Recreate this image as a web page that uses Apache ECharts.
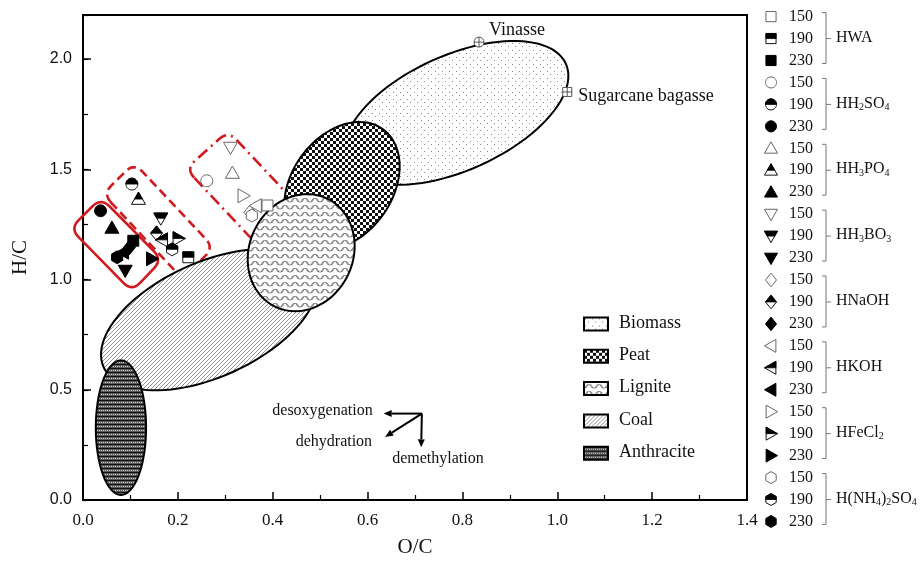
<!DOCTYPE html>
<html>
<head>
<meta charset="utf-8">
<script src="https://cdn.jsdelivr.net/npm/echarts@6/dist/echarts.min.js"></script>
<style>
html, body { margin: 0; padding: 0; background: #fff; }
#main { width: 922px; height: 570px; }
</style>
</head>
<body>
<div id="main"></div>
<script>
var chartDom = document.getElementById('main');
var myChart = echarts.init(chartDom, null, { renderer: 'canvas' });

// treatments and temperatures
var groups = ['HWA', 'HH2SO4', 'HH3PO4', 'HH3BO3', 'HNaOH', 'HKOH', 'HFeCl2', 'H(NH4)2SO4'];
var groupLabels = ['HWA', 'HH{s|2}SO{s|4}', 'HH{s|3}PO{s|4}', 'HH{s|3}BO{s|3}', 'HNaOH', 'HKOH', 'HFeCl{s|2}', 'H(NH{s|4}){s|2}SO{s|4}'];
var temps = ['150', '190', '230'];
var shapes = ['square', 'circle', 'triUp', 'triDown', 'diamond', 'triLeft', 'triRight', 'hexagon'];

// O/C and H/C per treatment, one pair of arrays per temperature
var oc150 = [0.389, 0.261, 0.315, 0.311, 0.352, 0.365, 0.338, 0.356];
var hc150 = [1.336, 1.448, 1.483, 1.599, 1.305, 1.335, 1.380, 1.290];
var oc190 = [0.222, 0.103, 0.117, 0.164, 0.155, 0.167, 0.201, 0.188];
var hc190 = [1.101, 1.433, 1.365, 1.278, 1.210, 1.180, 1.186, 1.137];
var oc230 = [0.106, 0.037, 0.061, 0.089, 0.098, 0.085, 0.145, 0.072];
var hc230 = [1.176, 1.312, 1.234, 1.041, 1.146, 1.124, 1.094, 1.101];

// raw feedstocks
var refNames = ['Vinasse', 'Sugarcane bagasse'];
var refOC = [0.835, 1.021];
var refHC = [2.077, 1.851];

// fuel regions: centre and two conjugate half axes (data units)
var fuelNames = ['Biomass', 'Peat', 'Lignite', 'Coal', 'Anthracite'];
var fuelOC = [0.787, 0.546, 0.460, 0.266, 0.080];
var fuelHC = [1.756, 1.425, 1.122, 0.818, 0.328];
var fuelAxisA = [[0.231, 0.223], [0.085, 0.259], [0.054, 0.246], [0.222, 0.218], [0.053, 0]];
var fuelAxisB = [[0.050, -0.238], [0.087, -0.130], [0.099, -0.100], [0.052, -0.235], [0, 0.305]];
var fuelLayer = [1, 2, 4, 3, 5];

// highlighted boxes (corners L, T, R, B)
var boxOC = [[-0.027, 0.038, 0.167, 0.103], [0.042, 0.108, 0.276, 0.209], [0.217, 0.306, 0.454, 0.365]];
var boxHC = [[1.231, 1.371, 1.090, 0.946], [1.389, 1.529, 1.145, 1.005], [1.502, 1.674, 1.335, 1.163]];
var boxDash = [null, [9, 5], [12, 5, 2, 5]];

// mechanism arrows
var arrowNames = ['desoxygenation', 'dehydration', 'demethylation'];
var arrowFrom = [0.7145, 0.392];
var arrowToOC = [0.634, 0.637, 0.713];
var arrowToHC = [0.392, 0.286, 0.239];

var SERIF = '"Liberation Serif", "Times New Roman", serif';
var RED = '#d11a1f';

function makePattern(kind) {
  var c = document.createElement('canvas');
  var ctx;
  if (kind === 'Biomass') {
    c.width = 7; c.height = 7; ctx = c.getContext('2d');
    ctx.fillStyle = '#fff'; ctx.fillRect(0, 0, 7, 7);
    ctx.fillStyle = '#8a8a8a'; ctx.fillRect(1, 1, 1, 1); ctx.fillRect(4, 4, 1, 1);
  } else if (kind === 'Peat') {
    c.width = 6; c.height = 6; ctx = c.getContext('2d');
    ctx.fillStyle = '#fff'; ctx.fillRect(0, 0, 6, 6);
    ctx.fillStyle = '#111'; ctx.fillRect(0, 0, 3, 3); ctx.fillRect(3, 3, 3, 3);
  } else if (kind === 'Lignite') {
    c.width = 10; c.height = 7; ctx = c.getContext('2d');
    ctx.fillStyle = '#fff'; ctx.fillRect(0, 0, 10, 7);
    ctx.strokeStyle = '#6a6a6a'; ctx.lineWidth = 0.8;
    ctx.beginPath(); ctx.arc(5, 6, 3.6, Math.PI, 0); ctx.stroke();
    ctx.beginPath(); ctx.arc(0, 2.5, 3.6, 0, Math.PI); ctx.stroke();
    ctx.beginPath(); ctx.arc(10, 2.5, 3.6, 0, Math.PI); ctx.stroke();
  } else if (kind === 'Coal') {
    c.width = 4; c.height = 4; ctx = c.getContext('2d');
    ctx.fillStyle = '#fff'; ctx.fillRect(0, 0, 4, 4);
    ctx.strokeStyle = '#777'; ctx.lineWidth = 0.8;
    ctx.beginPath(); ctx.moveTo(0, 4); ctx.lineTo(4, 0);
    ctx.moveTo(-1, 1); ctx.lineTo(1, -1); ctx.moveTo(3, 5); ctx.lineTo(5, 3); ctx.stroke();
  } else {
    c.width = 4; c.height = 4; ctx = c.getContext('2d');
    ctx.fillStyle = '#5a5a5a'; ctx.fillRect(0, 0, 4, 4);
    ctx.fillStyle = '#111'; ctx.fillRect(0, 0, 4, 1);
    ctx.fillStyle = '#cfcfcf'; ctx.fillRect(1, 2, 1, 1); ctx.fillRect(3, 2, 1, 1);
  }
  return { image: c, repeat: 'repeat' };
}
var patterns = fuelNames.map(makePattern);

function shapePoints(shape, r) {
  var p = [], k, a;
  if (shape === 'square') { var h = r * 0.78; p = [[-h, -h], [h, -h], [h, h], [-h, h]]; }
  else if (shape === 'circle') { for (k = 0; k < 32; k++) { a = k / 32 * 2 * Math.PI; p.push([Math.cos(a) * r * 0.85, Math.sin(a) * r * 0.85]); } }
  else if (shape === 'triUp') p = [[0, -r], [r, r * 0.75], [-r, r * 0.75]];
  else if (shape === 'triDown') p = [[0, r], [r, -r * 0.75], [-r, -r * 0.75]];
  else if (shape === 'diamond') p = [[0, -r * 1.05], [r * 0.85, 0], [0, r * 1.05], [-r * 0.85, 0]];
  else if (shape === 'triLeft') p = [[-r, 0], [r * 0.75, -r], [r * 0.75, r]];
  else if (shape === 'triRight') p = [[r, 0], [-r * 0.75, -r], [-r * 0.75, r]];
  else { for (k = 0; k < 6; k++) { a = (-90 + 60 * k) * Math.PI / 180; p.push([Math.cos(a) * r * 0.92, Math.sin(a) * r * 0.92]); } }
  return p;
}

// keep the upper half (screen y <= 0) of a polygon
function topHalf(pts) {
  var out = [];
  for (var i = 0; i < pts.length; i++) {
    var a = pts[i], b = pts[(i + 1) % pts.length];
    var ain = a[1] <= 0, bin = b[1] <= 0;
    if (ain) out.push(a);
    if (ain !== bin) {
      var t = a[1] / (a[1] - b[1]);
      out.push([a[0] + t * (b[0] - a[0]), 0]);
    }
  }
  return out;
}

// mode 0 open, 1 half filled, 2 filled
function symbolEls(shape, mode, r) {
  var pts = shapePoints(shape, r);
  if (mode === 2) {
    return [{ type: 'polygon', shape: { points: pts }, style: { fill: '#000', stroke: '#000', lineWidth: 1 } }];
  }
  var els = [{ type: 'polygon', shape: { points: pts }, style: { fill: '#fff', stroke: mode === 0 ? '#666' : '#111', lineWidth: 1 } }];
  if (mode === 1) {
    els.push({ type: 'polygon', shape: { points: topHalf(pts) }, style: { fill: '#000', stroke: '#000', lineWidth: 0.8 } });
  }
  return els;
}

function roundedPoints(pts, r) {
  var n = pts.length, out = [];
  for (var i = 0; i < n; i++) {
    var p0 = pts[(i - 1 + n) % n], p1 = pts[i], p2 = pts[(i + 1) % n];
    var d1 = Math.hypot(p0[0] - p1[0], p0[1] - p1[1]), d2 = Math.hypot(p2[0] - p1[0], p2[1] - p1[1]);
    var a = [p1[0] + (p0[0] - p1[0]) / d1 * r, p1[1] + (p0[1] - p1[1]) / d1 * r];
    var b = [p1[0] + (p2[0] - p1[0]) / d2 * r, p1[1] + (p2[1] - p1[1]) / d2 * r];
    for (var s = 0; s <= 10; s++) {
      var t = s / 10;
      out.push([
        (1 - t) * (1 - t) * a[0] + 2 * (1 - t) * t * p1[0] + t * t * b[0],
        (1 - t) * (1 - t) * a[1] + 2 * (1 - t) * t * p1[1] + t * t * b[1]
      ]);
    }
  }
  return out;
}

var pointData = [];
[[oc150, hc150], [oc190, hc190], [oc230, hc230]].forEach(function (set, t) {
  groups.forEach(function (g, i) {
    pointData.push([set[0][i], set[1][i], i, t]);
  });
});

// legends drawn as graphic elements
var graphics = [];
fuelNames.forEach(function (name, i) {
  var cy = 323 + i * 32.3;
  graphics.push({
    type: 'rect', left: 583, top: cy - 6.5,
    shape: { x: 0, y: 0, width: 24, height: 13 },
    style: { fill: patterns[i], stroke: '#000', lineWidth: 2 }
  });
  graphics.push({
    type: 'text', x: 619, y: cy,
    style: { text: name, font: '18px ' + SERIF, fill: '#111', verticalAlign: 'middle', align: 'left' }
  });
});
groups.forEach(function (g, i) {
  var rows = [];
  temps.forEach(function (t, j) {
    var y = 16.6 + 21.95 * (i * 3 + j);
    rows.push(y);
    graphics.push({ type: 'group', x: 771, y: y, children: symbolEls(shapes[i], j, 6.5) });
    graphics.push({
      type: 'text', x: 789, y: y,
      style: { text: t, font: '16px ' + SERIF, fill: '#111', verticalAlign: 'middle', align: 'left' }
    });
  });
  var top = rows[0] - 4, bot = rows[2] + 3;
  graphics.push({
    type: 'polyline',
    shape: { points: [[822, top], [826, top], [826, bot], [822, bot]] },
    style: { stroke: '#777', lineWidth: 1, fill: null }
  });
  graphics.push({
    type: 'line', shape: { x1: 826, y1: rows[1], x2: 831, y2: rows[1] },
    style: { stroke: '#777', lineWidth: 1 }
  });
  graphics.push({
    type: 'text', x: 836, y: rows[1] - 1,
    style: {
      text: groupLabels[i], font: '16px ' + SERIF, fill: '#111', lineHeight: 18,
      verticalAlign: 'middle', align: 'left',
      rich: { s: { fontSize: 10, fontFamily: SERIF, lineHeight: 9, verticalAlign: 'bottom', fill: '#111' } }
    }
  });
});

var option = {
  animation: false,
  backgroundColor: '#fff',
  grid: { left: 83, right: 175, top: 15, bottom: 70, show: true, borderColor: '#000', borderWidth: 2, backgroundColor: 'transparent' },
  xAxis: {
    type: 'value', min: 0, max: 1.4, interval: 0.2,
    name: 'O/C', nameLocation: 'middle', nameGap: 37,
    nameTextStyle: { fontFamily: SERIF, fontSize: 21, color: '#111' },
    axisLine: { lineStyle: { color: '#000', width: 2 } },
    axisTick: { inside: true, length: 8, lineStyle: { color: '#000', width: 1.5 } },
    minorTick: { show: true, splitNumber: 2, length: 5, lineStyle: { color: '#000', width: 1.2 } },
    axisLabel: { margin: 12, fontFamily: SERIF, fontSize: 17, color: '#111', formatter: function (v) { return v.toFixed(1); } },
    splitLine: { show: false }
  },
  yAxis: [{
    type: 'value', min: 0, max: 2.2, interval: 0.5,
    name: 'H/C', nameLocation: 'middle', nameGap: 52,
    nameTextStyle: { fontFamily: SERIF, fontSize: 21, color: '#111' },
    axisLine: { lineStyle: { color: '#000', width: 2 } },
    axisTick: { inside: true, length: 8, lineStyle: { color: '#000', width: 1.5 } },
    axisLabel: {
      margin: 11, fontFamily: '"Liberation Sans", Arial, sans-serif', fontSize: 16, color: '#111',
      formatter: function (v) { return Math.abs(v * 2 - Math.round(v * 2)) < 1e-6 ? v.toFixed(1) : ''; }
    },
    splitLine: { show: false }
  }, {
    type: 'value', min: 0, max: 2.2, interval: 0.25, position: 'left', offset: 0,
    axisLine: { show: false },
    axisTick: { inside: true, length: 5, lineStyle: { color: '#000', width: 1.2 } },
    axisLabel: { show: false },
    splitLine: { show: false }
  }],
  graphic: graphics,
  series: [
    {
      type: 'custom', name: 'boxes', z: 2, silent: true, clip: false,
      data: boxOC.map(function (b, i) { return [b[0], boxHC[i][0], i]; }),
      renderItem: function (params, api) {
        var i = api.value(2);
        var corners = boxOC[i].map(function (x, k) { return api.coord([x, boxHC[i][k]]); });
        return {
          type: 'polygon', shape: { points: roundedPoints(corners, 12) },
          style: { fill: null, stroke: RED, lineWidth: 2.6, lineDash: boxDash[i] }
        };
      }
    },
    {
      type: 'custom', name: 'fuels', z: 3, silent: true, clip: false,
      data: fuelNames.map(function (n, i) { return [fuelOC[i], fuelHC[i], i]; }),
      renderItem: function (params, api) {
        var i = api.value(2), A = fuelAxisA[i], B = fuelAxisB[i];
        var pts = [];
        for (var k = 0; k < 96; k++) {
          var t = k / 96 * 2 * Math.PI, c = Math.cos(t), s = Math.sin(t);
          pts.push(api.coord([fuelOC[i] + A[0] * c + B[0] * s, fuelHC[i] + A[1] * c + B[1] * s]));
        }
        return {
          type: 'polygon', z2: fuelLayer[i], shape: { points: pts },
          style: { fill: patterns[i], stroke: '#000', lineWidth: 2 }
        };
      }
    },
    {
      type: 'custom', name: 'arrows', z: 4, silent: true, clip: false,
      data: arrowNames.map(function (n, i) { return [arrowToOC[i], arrowToHC[i], i]; }),
      renderItem: function (params, api) {
        var i = api.value(2);
        var p0 = api.coord(arrowFrom), p1 = api.coord([arrowToOC[i], arrowToHC[i]]);
        var ang = Math.atan2(p1[1] - p0[1], p1[0] - p0[0]);
        var hl = 8, hw = 3.5;
        var bx = p1[0] - Math.cos(ang) * hl, by = p1[1] - Math.sin(ang) * hl;
        var head = [p1, [bx - Math.sin(ang) * hw, by + Math.cos(ang) * hw], [bx + Math.sin(ang) * hw, by - Math.cos(ang) * hw]];
        var txt;
        if (i === 0) txt = { x: p1[0] - 11, y: p1[1] - 3, align: 'right' };
        else if (i === 1) txt = { x: p1[0] - 13, y: p1[1] + 5, align: 'right' };
        else txt = { x: p1[0] - 29, y: p1[1] + 11, align: 'left' };
        return {
          type: 'group', children: [
            { type: 'line', shape: { x1: p0[0], y1: p0[1], x2: bx, y2: by }, style: { stroke: '#000', lineWidth: 2 } },
            { type: 'polygon', shape: { points: head }, style: { fill: '#000' } },
            { type: 'text', x: txt.x, y: txt.y, style: { text: arrowNames[i], font: '16px ' + SERIF, fill: '#111', align: txt.align, verticalAlign: 'middle' } }
          ]
        };
      }
    },
    {
      type: 'custom', name: 'feedstock', z: 5, silent: true, clip: false,
      data: refNames.map(function (n, i) { return [refOC[i], refHC[i], i]; }),
      renderItem: function (params, api) {
        var i = api.value(2), p = api.coord([api.value(0), api.value(1)]);
        var mark = i === 0
          ? { type: 'circle', shape: { cx: 0, cy: 0, r: 5 }, style: { fill: '#fff', stroke: '#555', lineWidth: 1 } }
          : { type: 'rect', shape: { x: -4.5, y: -4.5, width: 9, height: 9 }, style: { fill: '#fff', stroke: '#555', lineWidth: 1 } };
        var lab = i === 0 ? { x: 10, y: -12 } : { x: 11, y: 4 };
        return {
          type: 'group', x: p[0], y: p[1], children: [
            mark,
            { type: 'line', shape: { x1: -5, y1: 0, x2: 5, y2: 0 }, style: { stroke: '#555', lineWidth: 1 } },
            { type: 'line', shape: { x1: 0, y1: -5, x2: 0, y2: 5 }, style: { stroke: '#555', lineWidth: 1 } },
            { type: 'text', x: lab.x, y: lab.y, style: { text: refNames[i], font: '18px ' + SERIF, fill: '#111', align: 'left', verticalAlign: 'middle' } }
          ]
        };
      }
    },
    {
      type: 'custom', name: 'samples', z: 6, silent: true, clip: false,
      data: pointData,
      renderItem: function (params, api) {
        var p = api.coord([api.value(0), api.value(1)]);
        return { type: 'group', x: p[0], y: p[1], children: symbolEls(shapes[api.value(2)], api.value(3), 7) };
      }
    }
  ]
};

myChart.setOption(option);
</script>
</body>
</html>
